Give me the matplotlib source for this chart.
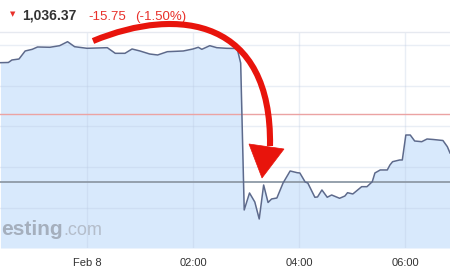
import matplotlib
matplotlib.use("Agg")
import matplotlib.pyplot as plt
import matplotlib.transforms as mtransforms
from matplotlib.path import Path
from matplotlib.patches import PathPatch, Polygon
import pandas as pd

# ---------------- data ----------------
day0 = "2018-02-07"
day1 = "2018-02-08"
times = [
    (day0, "22:22"), (day0, "22:31"), (day0, "22:35"), (day0, "22:43"), (day0, "22:50"),
    (day0, "22:58"), (day0, "23:04"), (day0, "23:18"), (day0, "23:29"), (day0, "23:38"),
    (day0, "23:46"), (day1, "00:00"), (day1, "00:23"), (day1, "00:32"), (day1, "00:43"),
    (day1, "00:51"), (day1, "01:00"), (day1, "01:11"), (day1, "01:20"), (day1, "01:31"),
    (day1, "01:49"), (day1, "02:00"), (day1, "02:06"), (day1, "02:10"), (day1, "02:19"),
    (day1, "02:27"), (day1, "02:38"), (day1, "02:50"), (day1, "02:54"), (day1, "02:58"),
    (day1, "03:04"), (day1, "03:10"), (day1, "03:15"), (day1, "03:20"), (day1, "03:25"),
    (day1, "03:29"), (day1, "03:35"), (day1, "03:42"), (day1, "03:50"), (day1, "03:58"),
    (day1, "04:01"), (day1, "04:07"), (day1, "04:10"), (day1, "04:18"), (day1, "04:21"),
    (day1, "04:26"), (day1, "04:32"), (day1, "04:37"), (day1, "04:46"), (day1, "04:52"),
    (day1, "04:55"), (day1, "05:01"), (day1, "05:11"), (day1, "05:17"), (day1, "05:23"),
    (day1, "05:26"), (day1, "05:32"), (day1, "05:40"), (day1, "05:43"), (day1, "05:46"),
    (day1, "05:54"), (day1, "05:57"), (day1, "06:01"), (day1, "06:06"), (day1, "06:11"),
    (day1, "06:19"), (day1, "06:25"), (day1, "06:32"), (day1, "06:43"), (day1, "06:48"),
    (day1, "06:51"),
]
prices = [
    1070.66, 1070.71, 1071.32, 1071.56, 1073.53,
    1073.94, 1074.51, 1074.44, 1074.83, 1075.81,
    1074.58, 1074.19, 1074.34, 1072.96, 1072.96,
    1074.02, 1073.53, 1072.79, 1072.55, 1073.36,
    1073.53, 1074.02, 1074.44, 1073.94, 1074.83,
    1074.34, 1074.19, 1074.14, 1070.58, 1034.51,
    1038.68, 1036.47, 1032.30, 1040.64, 1036.35,
    1037.21, 1037.45, 1041.13, 1044.08, 1043.66,
    1043.59, 1041.38, 1041.13, 1037.63, 1037.70,
    1039.42, 1037.63, 1038.19, 1037.38, 1037.94,
    1038.75, 1038.44, 1040.23, 1040.23, 1041.45,
    1043.59, 1044.33, 1044.33, 1045.55, 1046.36,
    1046.78, 1046.78, 1052.91, 1052.91, 1051.44,
    1051.27, 1051.93, 1051.81, 1051.56, 1050.04,
    1048.50,
]
prev_close = 1058.07
ref_level = 1041.38
grid_levels = [1035, 1045, 1055, 1065, 1075]
tick_times = [(day1, "00:00"), (day1, "02:00"), (day1, "04:00"), (day1, "06:00")]
tick_labels = ["Feb 8", "02:00", "04:00", "06:00"]
x_range = [(day0, "22:21:30"), (day1, "06:51:00")]
y_range = [1025.18, 1078.19]
header_price = "1,036.37"
header_change = "-15.75"
header_pct = "(-1.50%)"

# ---------------- figure ----------------
W, H = 450, 270
fig = plt.figure(figsize=(W / 100, H / 100), dpi=100)
fig.patch.set_facecolor("white")
ax = fig.add_axes([0, (H - 248) / H, 1, (248 - 32) / H])
ax.set_facecolor("white")

def ts(pairs):
    return pd.to_datetime([f"{d} {t}" for d, t in pairs], format="mixed")

x = ts(times)

ax.fill_between(x, prices, y_range[0], color="#d8e9fc", lw=0, zorder=1)
ax.axhline(prev_close, color="#eba3a3", lw=1.0, zorder=1.8)
ax.axhline(ref_level, color="#8e9aa6", lw=1.3, zorder=1.8)
ax.plot(x, prices, color="#5d6a8c", lw=1.1, zorder=3)

xr = ts(x_range)
ax.set_xlim(xr[0], xr[1])
ax.set_ylim(*y_range)
ax.set_yticks(grid_levels)
ax.set_xticks(ts(tick_times))
ax.set_xticklabels(tick_labels, fontfamily="Liberation Sans", fontsize=8, color="#333333")
ax.tick_params(axis="x", length=0, pad=7.5)
ax.tick_params(axis="y", length=0, labelleft=False)
ax.set_axisbelow("line")
ax.grid(True, color=(0.72, 0.78, 0.88), alpha=0.3, lw=1.0)
for side in ["left", "right", "bottom"]:
    ax.spines[side].set_visible(False)
ax.spines["top"].set_color("#e6e9f0")
ax.spines["top"].set_linewidth(1.0)

# pixel transform (origin top-left)
px = mtransforms.Affine2D().scale(1 / W, -1 / H).translate(0, 1) + fig.transFigure

# watermark
fig.text(1, 235, "esting", transform=px, ha="left", va="baseline",
         fontfamily="Liberation Sans", fontweight="bold", fontsize=15, color="#a5afbd")
fig.text(63, 235, ".com", transform=px, ha="left", va="baseline",
         fontfamily="Liberation Sans", fontsize=13, color="#b4bdca")

# header
fig.text(13, 14, "▼", transform=px, ha="center", va="center",
         fontfamily="DejaVu Sans", fontsize=5, color="#e8302a")
fig.text(22, 20, header_price, transform=px, ha="left", va="baseline",
         fontfamily="Liberation Sans", fontweight="bold", fontsize=10, color="#333333")
fig.text(88, 20, header_change, transform=px, ha="left", va="baseline",
         fontfamily="Liberation Sans", fontsize=9.5, color="#e8302a")
fig.text(135, 20, header_pct, transform=px, ha="left", va="baseline",
         fontfamily="Liberation Sans", fontsize=9.5, color="#e8302a")

# red annotation arrow
red = "#e8140c"
shaft = Path([(93, 41), (180, 5), (272, 20), (270, 146)],
             [Path.MOVETO, Path.CURVE4, Path.CURVE4, Path.CURVE4])
fig.patches.append(PathPatch(shaft, transform=px, fill=False, edgecolor=red,
                             lw=4.4, capstyle="butt", zorder=10))
fig.patches.append(Polygon([(249, 144), (284, 149), (262, 178)], closed=True,
                           transform=px, facecolor=red, edgecolor=red, lw=0.5, zorder=11))

fig.savefig("out.png", dpi=100, facecolor="white")
